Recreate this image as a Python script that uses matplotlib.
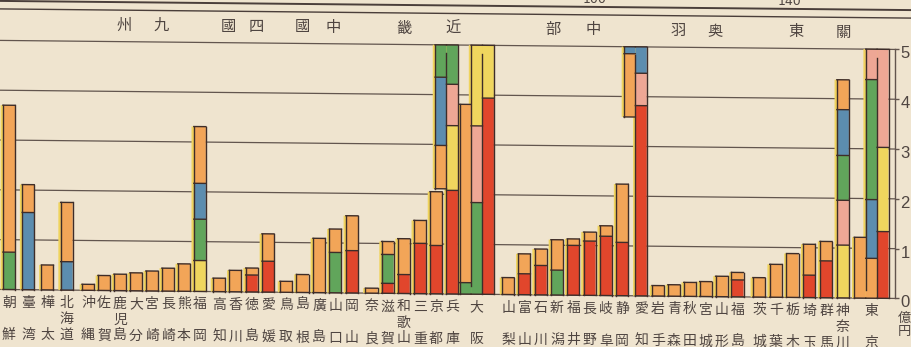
import numpy as np
import matplotlib
matplotlib.use("Agg")
import matplotlib.pyplot as plt
import matplotlib.transforms as mtransforms
from matplotlib.lines import Line2D
from matplotlib.text import Text
from matplotlib.patches import Patch
from matplotlib.collections import Collection

plt.rcParams["font.family"] = ["Noto Sans CJK JP", "DejaVu Sans"]

# ---------------------------------------------------------------- data
prefectures = [
    "朝鮮", "臺湾", "樺太", "北海道",
    "沖縄", "佐賀", "鹿児島", "大分", "宮崎", "長崎", "熊本", "福岡",
    "高知", "香川", "徳島", "愛媛",
    "鳥取", "島根", "廣島", "山口", "岡山",
    "奈良", "滋賀", "和歌山", "三重", "京都", "兵庫", "大阪",
    "山梨", "富山", "石川", "新潟", "福井", "長野", "岐阜", "静岡", "愛知",
    "岩手", "青森", "秋田", "宮城", "山形", "福島",
    "茨城", "千葉", "栃木", "埼玉", "群馬", "神奈川", "東京",
]
regions = ["", "九州", "四國", "中國", "近畿", "中部", "奥羽", "關東"]
region_sizes = [4, 8, 4, 5, 7, 9, 6, 7]

# values in 億円, one entry per prefecture, stacked bottom to top in this order
red = [0, 0, 0, 0,
       0, 0, 0, 0, 0, 0, 0, 0,
       0, 0, 0.34, 0.62,
       0, 0, 0, 0, 0.85,
       0, 0.20, 0.38, 1.01, 0.97, 2.08, 3.94,
       0, 0.42, 0.59, 0, 1.00, 1.09, 1.19, 1.07, 3.82,
       0, 0, 0, 0, 0, 0.34,
       0, 0, 0, 0.45, 0.74, 0, 1.34]
yellow = [0, 0, 0, 0,
          0, 0, 0, 0, 0, 0, 0, 0.62,
          0, 0, 0, 0,
          0, 0, 0, 0, 0,
          0, 0, 0, 0, 0, 1.30, 2.68,
          0, 0, 0, 0, 0, 0, 0, 0, 0,
          0, 0, 0, 0, 0, 0,
          0, 0, 0, 0, 0, 1.06, 1.69]
pink = [0, 0, 0, 0,
        0, 0, 0, 0, 0, 0, 0, 0,
        0, 0, 0, 0,
        0, 0, 0, 0, 0,
        0, 0, 0, 0, 0, 0.83, 1.54,
        0, 0, 0, 0, 0, 0, 0, 0, 0.65,
        0, 0, 0, 0, 0, 0,
        0, 0, 0, 0, 0, 0.90, 2.58]
green = [0.75, 0, 0, 0,
         0, 0, 0, 0, 0, 0, 0, 0.83,
         0, 0, 0, 0,
         0, 0, 0, 0.81, 0,
         0, 0.58, 0, 0, 0, 1.44, 2.07,
         0, 0, 0, 0.50, 0, 0, 0, 0, 0,
         0, 0, 0, 0, 0, 0,
         0, 0, 0, 0, 0, 0.90, 2.41]
blue = [0, 1.55, 0, 0.57,
        0, 0, 0, 0, 0, 0, 0, 0.72,
        0, 0, 0, 0,
        0, 0, 0, 0, 0,
        0, 0, 0, 0, 0, 1.37, 0,
        0, 0, 0, 0, 0, 0, 0, 0, 0.67,
        0, 0, 0, 0, 0, 0,
        0, 0, 0, 0, 0, 0.92, 1.18]
orange = [2.95, 0.56, 0.50, 1.19,
          0.12, 0.30, 0.33, 0.36, 0.40, 0.46, 0.55, 1.14,
          0.27, 0.43, 0.14, 0.55,
          0.22, 0.36, 1.09, 0.47, 0.70,
          0.10, 0.26, 0.72, 0.46, 1.08, 0.87, 3.58,
          0.34, 0.40, 0.33, 0.61, 0.13, 0.18, 0.21, 1.17, 1.27,
          0.21, 0.23, 0.28, 0.30, 0.41, 0.15,
          0.39, 0.66, 0.88, 0.62, 0.39, 0.60, 2.02]

y_ticks = [0, 1, 2, 3, 4, 5]
unit_label = "億円"

# ---------------------------------------------------------------- style
PAPER = "#efe4cf"
INK = "#3e2d29"
GRID = "#62554e"
TEXT = "#4f4541"
FRINGE_C = "#efd35c"
series = [
    (red, "#e1462c"),
    (yellow, "#f0d65e"),
    (pink, "#eea795"),
    (green, "#61a55b"),
    (blue, "#5c8daf"),
    (orange, "#f2a558"),
]

CAP = 5.0            # one column holds this much; the rest folds over
W_PX, H_PX = 911, 347
BASE_PX, TOP_PX, RIGHT_PX = 294, 45, 895
PX_PER_SLOT = 16.3
SLANT = 9.0 / 893    # the printed sheet runs slightly downhill to the right

# layout in bar slots
region_start = [0.55, 5.40, 13.44, 17.55, 22.79, 31.17, 40.37, 46.56]
region_pitch = [1.18, 0.98, 1.00, 1.01, 0.99, 1.00, 0.975, 1.03]
region_title_half = [0, 1.13, 0.86, 0.92, 1.50, 1.23, 1.13, 1.47]
extra_shift = {"大阪": 1.22, "愛知": 0.16, "東京": 1.42}
BAR_W = 0.74
COL_W = 0.70
FRINGE = 0.14
FOLD_GAP = 0.17

fig = plt.figure(figsize=(W_PX / 100, H_PX / 100), dpi=100)
fig.patch.set_facecolor(PAPER)
ax = fig.add_axes([0, 1 - BASE_PX / H_PX, RIGHT_PX / W_PX, (BASE_PX - TOP_PX) / H_PX])
ax.set_facecolor(PAPER)
ax.set_xlim(0, RIGHT_PX / PX_PER_SLOT)
ax.set_ylim(0, CAP)

for y in y_ticks:
    ax.axhline(y, color=GRID, lw=0.9, zorder=1)

# bar positions
xpos, region_of = [], []
for r, (n, s, p) in enumerate(zip(region_sizes, region_start, region_pitch)):
    for i in range(n):
        xpos.append(s + i * p)
        region_of.append(r)
xpos = [x + extra_shift.get(name, 0.0) for x, name in zip(xpos, prefectures)]


def draw_folded_bar(x_main, segs, width):
    """Stacked bar; values above CAP fold into extra columns to the left."""
    total = sum(v for v, _ in segs)
    ncol = max(1, int(np.ceil(total / CAP - 1e-9)))
    colx = [x_main - k * width for k in range(ncol)]

    def local(v, k):
        t = v - k * CAP
        return t if k % 2 == 0 else CAP - t

    cum = 0.0
    bounds = []
    for v, c in segs:
        if v <= 0:
            continue
        a, b = cum, cum + v
        cum = b
        for k in range(int(a // CAP), int(np.ceil(b / CAP - 1e-9))):
            lo, hi = max(a, k * CAP), min(b, (k + 1) * CAP)
            if hi - lo < 1e-9:
                continue
            y0, y1 = sorted((local(lo, k), local(hi, k)))
            ax.bar(colx[k] - FRINGE, y1 - y0, width=width, bottom=y0,
                   color=FRINGE_C, edgecolor="none", zorder=2)
            ax.bar(colx[k], y1 - y0, width=width, bottom=y0,
                   color=c, edgecolor="none", zorder=3)
        bounds.append(b)

    kw = dict(colors=INK, lw=1.0, zorder=4, capstyle="projecting")
    # internal segment borders
    for t in bounds[:-1]:
        k = int(t // CAP)
        if abs(t - k * CAP) < 1e-6:
            continue
        y = local(t, k)
        ax.hlines(y, colx[k] - width / 2, colx[k] + width / 2, **kw)
    # outline of each column
    for k in range(ncol):
        ya, yb = sorted((local(k * CAP, k), local(min(total, (k + 1) * CAP), k)))
        ax.hlines([ya, yb], colx[k] - width / 2, colx[k] + width / 2, **kw)
        if k == 0:
            ax.vlines(colx[k] + width / 2, ya, yb, **kw)
        if k == ncol - 1:
            ax.vlines(colx[k] - width / 2, ya, yb, **kw)
        elif k % 2 == 0:
            ax.vlines(colx[k] - width / 2, 0, CAP - FOLD_GAP, **kw)
        else:
            ax.vlines(colx[k] - width / 2, FOLD_GAP, CAP, **kw)
    left = colx[-1] - width / 2 - FRINGE
    right = colx[0] + width / 2
    label_x = colx[1] if ncol >= 3 else colx[0]
    return left, right, label_x


feet, label_xs = [], []
for i, name in enumerate(prefectures):
    segs = [(vals[i], col) for vals, col in series]
    total = sum(v for v, _ in segs)
    w = COL_W if total > CAP else BAR_W
    l, r, lx = draw_folded_bar(xpos[i], segs, w)
    feet.append((l, r))
    label_xs.append(lx)

# prefecture names, written vertically under the bars
fig_y = lambda px: 1 - px / H_PX
lab_tf = mtransforms.blended_transform_factory(ax.transData, fig.transFigure)
rows = {2: [307, 339], 3: [307, 323, 339]}
for name, lx in zip(prefectures, label_xs):
    for ch, ypx in zip(name, rows[len(name)]):
        ax.text(lx, fig_y(ypx), ch, transform=lab_tf, ha="center", va="center",
                fontsize=10, color=TEXT, clip_on=False)

# region titles (read right to left)
for r, title in enumerate(regions):
    if not title:
        continue
    idx = [i for i in range(len(prefectures)) if region_of[i] == r]
    c = (min(feet[i][0] for i in idx) + max(feet[i][1] for i in idx)) / 2
    h = region_title_half[r]
    for ch, xx in ((title[0], c + h), (title[1], c - h)):
        ax.text(xx, fig_y(28.5), ch, transform=lab_tf, ha="center", va="center",
                fontsize=11, color=TEXT, clip_on=False)

# header rules
fig.add_artist(Line2D([0, 1], [fig_y(5.5)] * 2, color="#4a3e3a", lw=1.4))
fig.add_artist(Line2D([0, 1], [fig_y(13.5)] * 2, color="#4a3e3a", lw=1.0))
for xx, s in ((595, "100"), (790, "140")):
    fig.text(xx / W_PX, fig_y(-2), s, ha="center", va="center",
             fontsize=9, color=TEXT, family="DejaVu Sans")

# right-hand scale
for side in ("left", "top", "bottom"):
    ax.spines[side].set_visible(False)
ax.spines["right"].set_color(GRID)
ax.spines["right"].set_linewidth(1.0)
ax.set_xticks([])
ax.yaxis.tick_right()
ax.set_yticks(y_ticks)
ax.set_yticklabels([str(t) for t in y_ticks], family="Liberation Sans")
ax.tick_params(axis="y", direction="out", length=3, width=1.0, color=GRID,
               labelcolor=TEXT, labelsize=12, pad=1.0)
shift = mtransforms.ScaledTranslation(0, -3 / 100, fig.dpi_scale_trans)
for lab in ax.get_yticklabels():
    lab.set_transform(lab.get_transform() + shift)
for ch, ypx in zip(unit_label, (313.5, 327)):
    fig.text(904 / W_PX, fig_y(ypx), ch, ha="center", va="center",
             fontsize=9.5, color=TEXT)

# tilt the whole sheet a little: shear in display pixels about the centre
fig.canvas.draw()
xc = W_PX / 2
slant = mtransforms.Affine2D(np.array([[1.0, 0.0, 0.0],
                                       [-SLANT, 1.0, SLANT * xc],
                                       [0.0, 0.0, 1.0]]))
skip = {id(fig.patch), id(ax.patch)}
for obj in fig.findobj(lambda a: isinstance(a, (Line2D, Text, Patch, Collection))):
    if id(obj) in skip:
        continue
    if isinstance(obj, Patch):
        obj.set_transform(obj.get_data_transform() + slant)
    else:
        obj.set_transform(obj.get_transform() + slant)
    obj.set_clip_on(False)

fig.savefig("out.png", dpi=100, facecolor=PAPER)
